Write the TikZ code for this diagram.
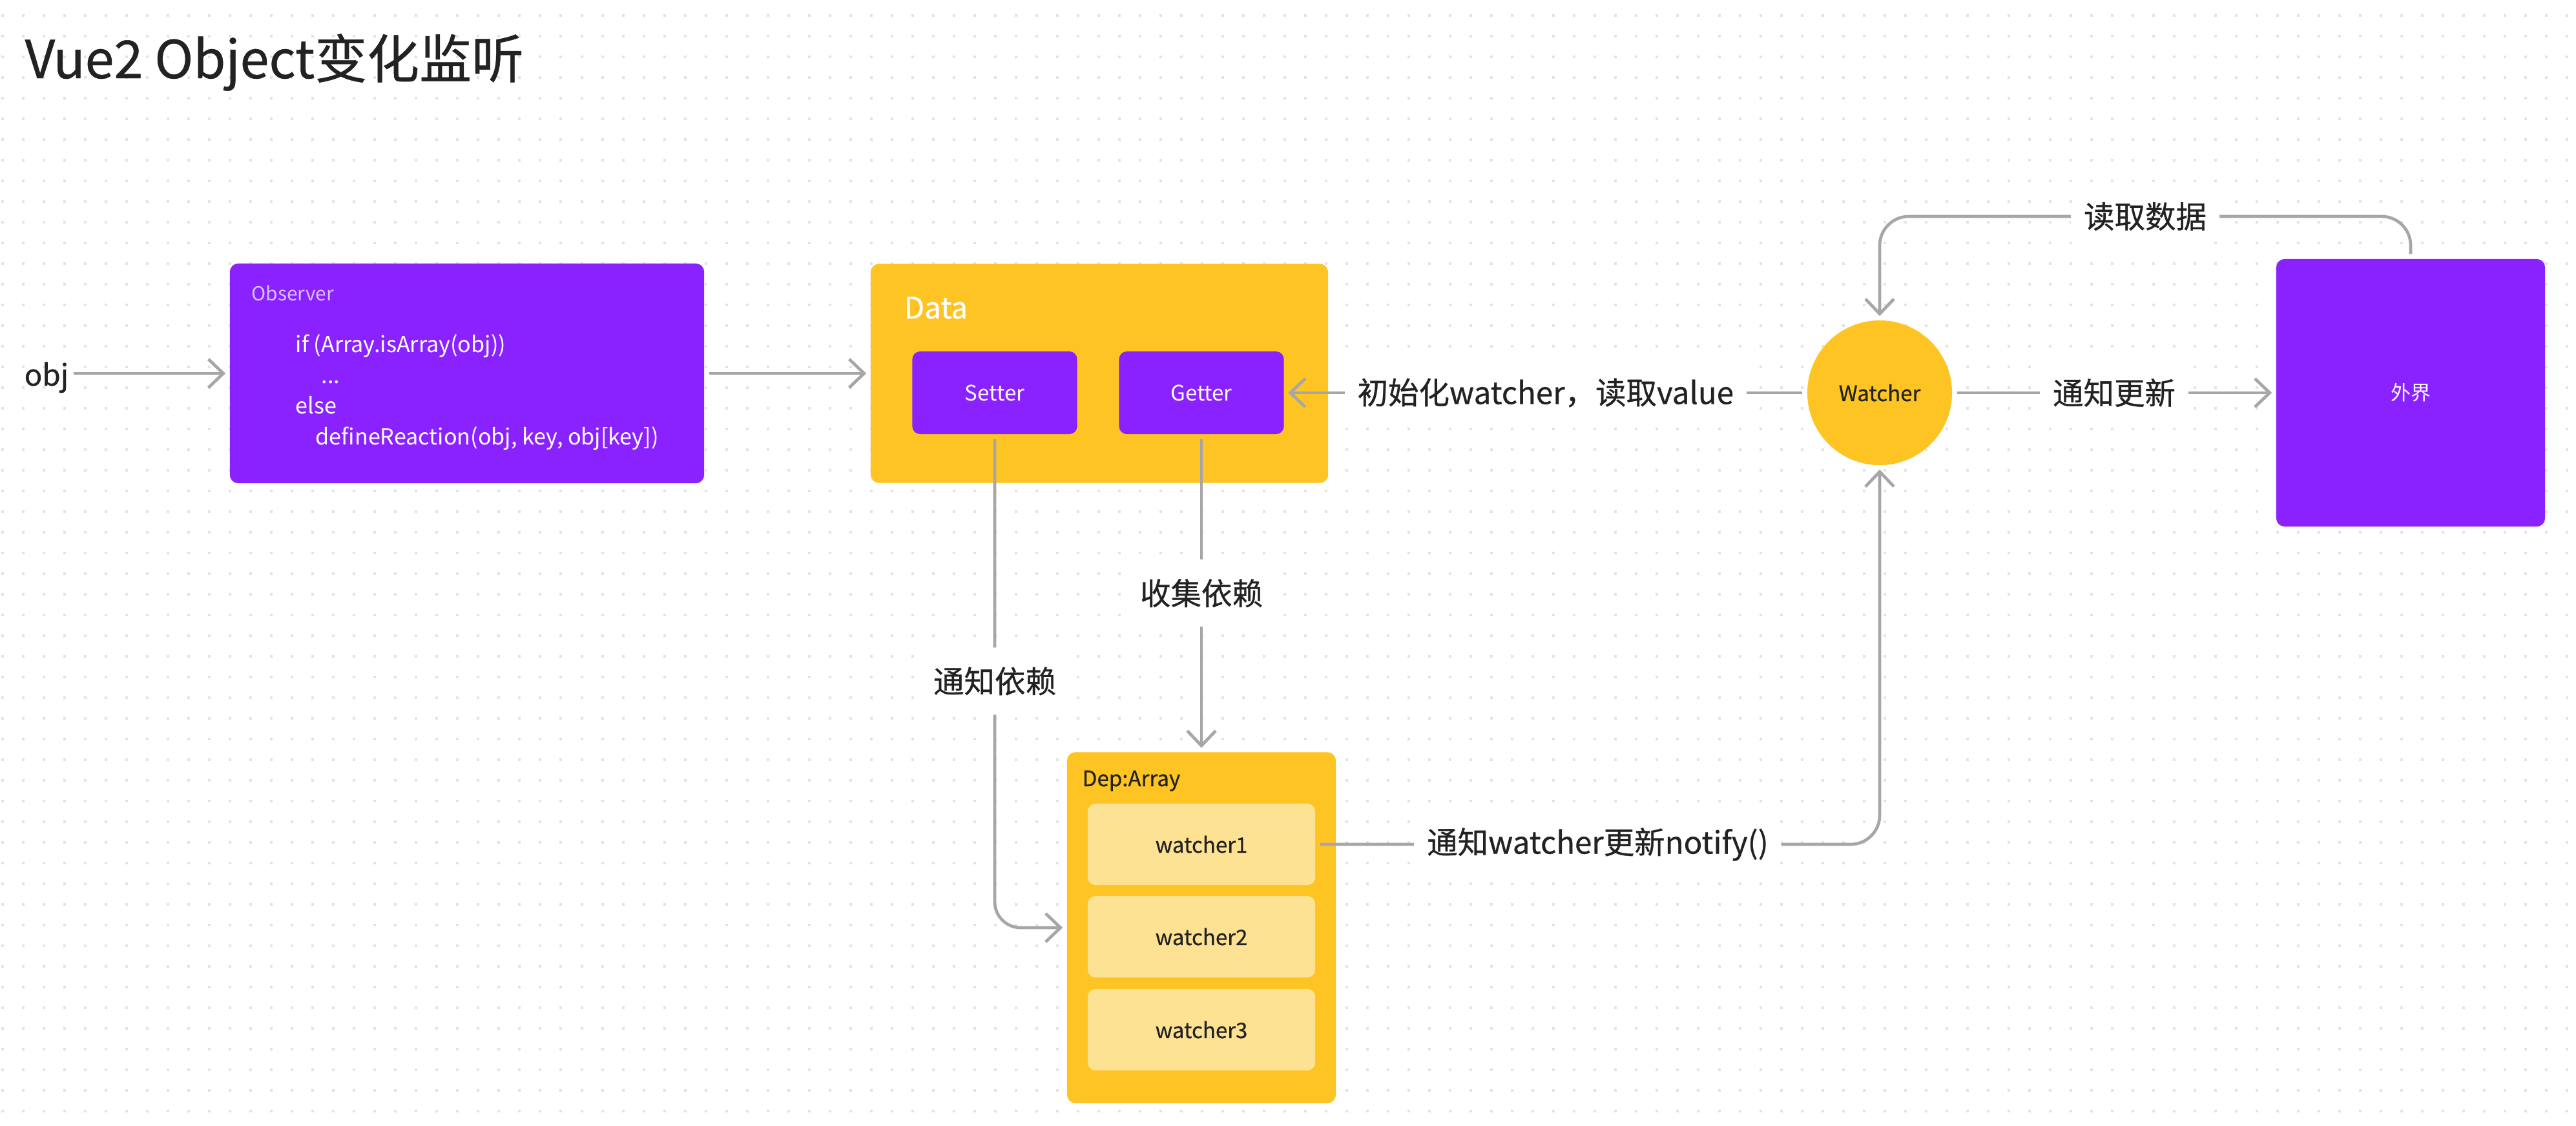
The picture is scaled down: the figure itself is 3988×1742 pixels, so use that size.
\documentclass[tikz,border=0pt]{standalone}
\usepackage{fontspec}
\setmainfont{Noto Sans CJK SC}
\newfontfamily\medfont{Noto Sans CJK SC}[FakeBold=0.6]
\usetikzlibrary{arrows.meta}
\definecolor{vpurple}{HTML}{8A22FF}
\definecolor{vyellow}{HTML}{FEC423}
\definecolor{vpale}{HTML}{FDE294}
\definecolor{vline}{HTML}{A6A6A6}
\definecolor{vdot}{HTML}{E3E3E3}
\definecolor{vtext}{HTML}{222222}
\definecolor{vlilac}{HTML}{D9C2FF}
\def\fsz#1{\fontsize{#1}{#1}\selectfont}
\tikzset{
	purplebox/.style={fill=vpurple, rounded corners=0.13cm, inner sep=0pt, text=white},
	yellowbox/.style={fill=vyellow, rounded corners=0.13cm, inner sep=0pt},
	slot/.style={fill=vpale, rounded corners=0.12cm, minimum width=3.52cm, minimum height=1.26cm, inner sep=0pt, text=vtext, font=\medfont\fsz{9.4pt}},
	plaintext/.style={inner sep=0pt, text=vtext},
	flow/.style={draw=vline, line width=0.047cm, -{Straight Barb[length=0.23cm,width=0.44cm]}, shorten >=0.06cm, shorten <=0.07cm},
	lbl/.style={fill=white, text=vtext, font=\medfont\fsz{13.5pt}, inner xsep=0.2cm, inner ysep=0.3cm},
	dotrow/.style={draw=vdot, line width=0.04cm, dash pattern=on 0.04cm off 0.28cm}
}
\begin{document}
\begin{tikzpicture}[x=0.01cm, y=-0.01cm]
				\useasboundingbox[fill=white] (0,0) rectangle (3988,1742);
				\foreach \gy in {24,56,...,1720}
					\draw[dotrow] (2,\gy) -- (3988,\gy);
				
				\node[plaintext, anchor=base west, font=\medfont\fsz{23pt}] (title) at (38,121) {Vue2 Object变化监听};
				
				\node[plaintext, anchor=base west, font=\medfont\fsz{13pt}] (obj) at (37,597) {obj};
				
				\node[purplebox, minimum width=7.34cm, minimum height=3.40cm] (observer) at (723,578) {};
				\node[plaintext, anchor=base west, text=vlilac, font=\fsz{8.5pt}] (obstitle) at (389,465) {Observer};
				\node[plaintext, anchor=base west, text=white, font=\fsz{9.7pt}] (code1) at (457,545) {if (Array.isArray(obj))};
				\node[plaintext, anchor=base west, text=white, font=\fsz{9.7pt}] (code2) at (497,593) {...};
				\node[plaintext, anchor=base west, text=white, font=\fsz{9.7pt}] (code3) at (457,640) {else};
				\node[plaintext, anchor=base west, text=white, font=\fsz{9.7pt}] (code4) at (488,688) {defineReaction(obj, key, obj[key])};
				
				\node[yellowbox, minimum width=7.08cm, minimum height=3.39cm] (data) at (1702,578) {};
				\node[plaintext, anchor=base west, text=white, font=\medfont\fsz{13pt}] (datalbl) at (1399,493) {Data};
				\node[purplebox, rounded corners=0.12cm, minimum width=2.55cm, minimum height=1.28cm, font=\fsz{9.4pt}] (setter) at (1540,608) {Setter};
				\node[purplebox, rounded corners=0.12cm, minimum width=2.55cm, minimum height=1.28cm, font=\fsz{9.4pt}] (getter) at (1860,608) {Getter};
				
				\node[circle, fill=vyellow, minimum size=2.24cm, inner sep=0pt, text=vtext, font=\medfont\fsz{9.4pt}] (watcher) at (2910,608) {Watcher};
				
				\node[purplebox, minimum width=4.16cm, minimum height=4.14cm, font=\fsz{8.8pt}] (outer) at (3732,608) {外界};
				\coordinate (loop) at (3300,335);
				
				\node[yellowbox, minimum width=4.16cm, minimum height=5.43cm] (dep) at (1860,1436) {};
				\node[plaintext, anchor=base west, font=\medfont\fsz{9.4pt}] (deplbl) at (1675,1217) {Dep:Array};
				\node[slot] (w1) at (1860,1307) {watcher1};
				\node[slot] (w2) at (1860,1450) {watcher2};
				\node[slot] (w3) at (1860,1594) {watcher3};
				
				\draw[flow] (observer.west -| obj.east) -- (observer.west);
				\draw[flow] (observer) -- (data);
				\draw[flow] (watcher) -- node[lbl] {初始化watcher，读取value} (getter);
				\draw[flow] (watcher) -- node[lbl] {通知更新} (outer);
				\draw[flow, rounded corners=0.45cm] (outer.north) -- (outer.north |- loop) -- node[lbl] {读取数据} (watcher.north |- loop) -- (watcher.north);
				\draw[flow] (getter) -- node[lbl] {收集依赖} (dep);
				\draw[flow, rounded corners=0.4cm] (setter.south) -- node[lbl] {通知依赖} (setter.south |- dep.west) -- (dep.west);
				\draw[flow, rounded corners=0.45cm] (w1.east) -- node[lbl] {通知watcher更新notify()} (w1.east -| watcher.south) -- (watcher.south);
			\end{tikzpicture}
\end{document}
